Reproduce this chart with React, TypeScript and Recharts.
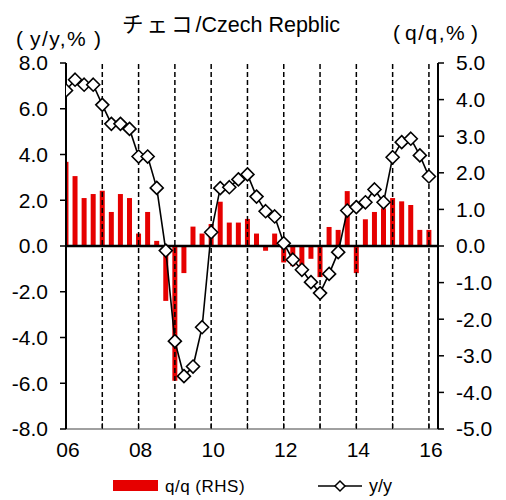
import React from 'react'
import { ComposedChart, Bar, Line, XAxis, YAxis, ReferenceLine } from 'recharts'

// quarterly, 2006Q1 .. 2016Q1
const yearLabels = ['06', '07', '08', '09', '10', '11', '12', '13', '14', '15', '16']

const qoq = [
  2.3, 1.91, 1.31, 1.42, 1.51, 0.93, 1.42, 1.31, 0.34, 0.93, 0.14,
  -1.5, -3.68, -0.74, 0.53, 0.34, 0.6, 1.21, 0.64, 0.64, 0.74,
  0.34, -0.13, 0.34, -0.45, -0.55, -0.7, -0.35, -0.85, 0.52, 0.44,
  1.5, -0.74, 0.73, 0.93, 1.03, 1.31, 1.22, 1.12, 0.44, 0.44,
]

const yoy = [
  6.8, 7.27, 7.05, 7.05, 6.17, 5.34, 5.34, 5.12, 3.91, 3.91, 2.54,
  -0.2, -4.16, -5.69, -5.27, -3.55, 0.6, 2.53, 2.57, 2.91, 3.13,
  2.16, 1.52, 1.29, 0.12, -0.6, -1.04, -1.58, -2.06, -1.22, -0.27,
  1.55, 1.7, 1.91, 2.47, 1.91, 3.88, 4.54, 4.69, 3.96, 3.04,
]

const leftTicks = [-8, -6, -4, -2, 0, 2, 4, 6, 8]
const rightTicks = [-5, -4, -3, -2, -1, 0, 1, 2, 3, 4, 5]
const yearTicks = yearLabels.map((_, k) => k * 4)

const data = qoq.map((v, i) => ({ i, qoq: v, yoy: yoy[i] }))

const font = '"Liberation Sans", Arial, "Noto Sans CJK JP", sans-serif'
const RED = '#e60000'

const Diamond = (props: any) => {
  const { cx, cy, index } = props
  if (cx == null || cy == null) return <g key={index} />
  const r = 6.5
  return (
    <path
      key={index}
      d={`M${cx},${cy - r}L${cx + r},${cy}L${cx},${cy + r}L${cx - r},${cy}Z`}
      fill='#fff'
      stroke='#000'
      strokeWidth={1.6}
    />
  )
}

const BottomTick = (props: any) => {
  const { x, y, payload } = props
  const k = Math.round(payload.value / 4)
  return (
    <g>
      <line x1={x} x2={x} y1={y} y2={y - 6} stroke='#000' strokeWidth={1} />
      {k % 2 === 0 && (
        <text x={x + 2} y={y + 28} textAnchor='middle' fontSize={21} fill='#000' fontFamily={font}>
          {yearLabels[k]}
        </text>
      )}
    </g>
  )
}

const TopTick = (props: any) => {
  const { x, y } = props
  return <line x1={x} x2={x} y1={y} y2={y + 6} stroke='#000' strokeWidth={1} />
}

export default function App() {
  return (
    <div style={{ position: 'absolute', left: 0, top: 0, width: 506, height: 500, background: '#fff', fontFamily: font }}>
      <ComposedChart width={506} height={500} data={data} margin={{ top: 63, right: 0, left: 0, bottom: 41 }}>
        <XAxis
          xAxisId='main'
          dataKey='i'
          type='number'
          domain={[0, 41]}
          allowDataOverflow
          ticks={yearTicks}
          interval={0}
          height={30}
          tickSize={0}
          tickMargin={0}
          tick={<BottomTick />}
          tickLine={false}
          axisLine={{ stroke: '#a0a0a0', strokeWidth: 2 }}
        />
        <XAxis
          xAxisId='top'
          orientation='top'
          type='number'
          domain={[0, 41]}
          allowDataOverflow
          ticks={yearTicks}
          interval={0}
          height={0}
          tickSize={0}
          tickMargin={0}
          tick={<TopTick />}
          tickLine={false}
          axisLine={{ stroke: '#a0a0a0', strokeWidth: 2 }}
        />
        <YAxis
          yAxisId='left'
          domain={[-8, 8]}
          ticks={leftTicks}
          interval={0}
          width={66}
          tickSize={6}
          tickMargin={12}
          tickFormatter={(v: number) => v.toFixed(1)}
          tick={{ fill: '#000', fontSize: 21, fontFamily: font }}
          tickLine={{ stroke: '#000', strokeWidth: 1.5 }}
          axisLine={{ stroke: '#000', strokeWidth: 2 }}
        />
        <YAxis
          yAxisId='right'
          orientation='right'
          domain={[-5, 5]}
          ticks={rightTicks}
          interval={0}
          width={68}
          tickSize={6}
          tickMargin={12}
          tickFormatter={(v: number) => v.toFixed(1)}
          tick={{ fill: '#000', fontSize: 21, fontFamily: font }}
          tickLine={{ stroke: '#000', strokeWidth: 1.5 }}
          axisLine={{ stroke: '#000', strokeWidth: 2 }}
        />
        {yearTicks.slice(1).map((t) => (
          <ReferenceLine
            key={t}
            xAxisId='main'
            yAxisId='left'
            x={t}
            stroke='#000'
            strokeWidth={1.5}
            strokeDasharray='5 3'
          />
        ))}
        <Bar xAxisId='main' yAxisId='right' dataKey='qoq' fill={RED} barSize={5} isAnimationActive={false} />
        <ReferenceLine xAxisId='main' yAxisId='left' y={0} stroke='#000' strokeWidth={2.5} />
        <Line
          xAxisId='main'
          yAxisId='left'
          dataKey='yoy'
          stroke='#000'
          strokeWidth={1.6}
          dot={<Diamond />}
          activeDot={false}
          isAnimationActive={false}
        />
      </ComposedChart>
      <svg width={506} height={500} style={{ position: 'absolute', left: 0, top: 0, pointerEvents: 'none' }}>
        <text x={122} y={32} fontSize={21.5} fontFamily={font} fill='#000'>
          <tspan letterSpacing={3}>チェコ</tspan>/Czech Repblic
        </text>
        {/* left unit label */}
        <text x={16} y={46} fontSize={21} fontFamily={font} fill='#000'>(</text>
        <text x={30} y={46} fontSize={21} fontFamily={font} fill='#000' letterSpacing={1.5}>y/y,%</text>
        <text x={101} y={46} textAnchor='end' fontSize={21} fontFamily={font} fill='#000'>)</text>
        {/* right unit label */}
        <text x={393} y={40} fontSize={21} fontFamily={font} fill='#000'>(</text>
        <text x={405} y={40} fontSize={21} fontFamily={font} fill='#000' letterSpacing={1.5}>q/q,%</text>
        <text x={478} y={40} textAnchor='end' fontSize={21} fontFamily={font} fill='#000'>)</text>
        {/* legend */}
        <rect x={113} y={480} width={45} height={11} fill={RED} />
        <text x={165} y={492} fontSize={17} fontFamily={font} fill='#000' letterSpacing={0.5}>
          q/q (RHS)
        </text>
        <line x1={318} x2={362} y1={486} y2={486} stroke='#000' strokeWidth={1.5} />
        <path d='M340,481L345,486L340,491L335,486Z' fill='#fff' stroke='#000' strokeWidth={1.5} />
        <text x={369} y={492} fontSize={18} fontFamily={font} fill='#000'>
          y/y
        </text>
      </svg>
    </div>
  )
}
